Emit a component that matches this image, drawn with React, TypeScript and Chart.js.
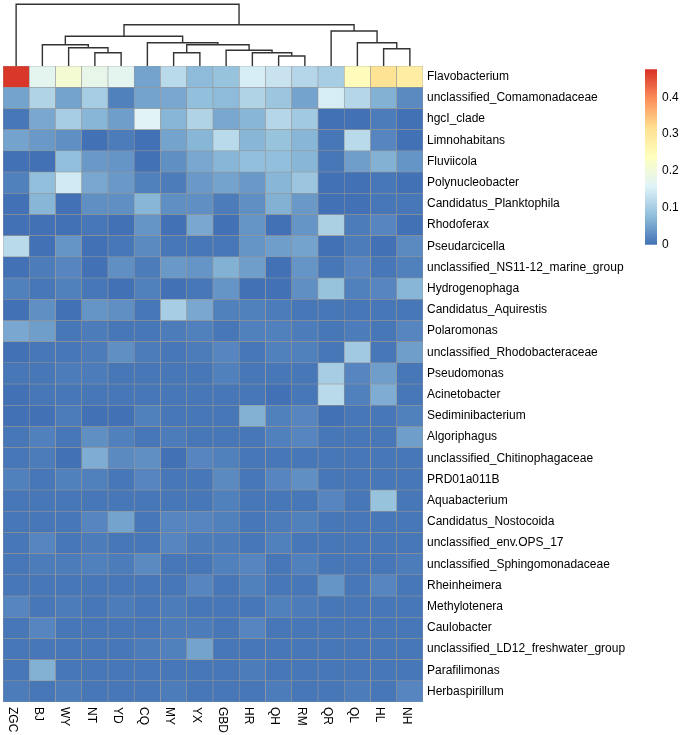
import React, { useEffect, useRef } from "react";
import { Chart, registerables } from "chart.js";
Chart.register(...registerables);

const sampleLabels = ["ZGC", "BJ", "WY", "NT", "YD", "CQ", "MY", "YX", "GBD", "HR", "QH", "RM", "QR", "QL", "HL", "NH"];

const taxaLabels = [
  "Flavobacterium",
  "unclassified_Comamonadaceae",
  "hgcI_clade",
  "Limnohabitans",
  "Fluviicola",
  "Polynucleobacter",
  "Candidatus_Planktophila",
  "Rhodoferax",
  "Pseudarcicella",
  "unclassified_NS11-12_marine_group",
  "Hydrogenophaga",
  "Candidatus_Aquirestis",
  "Polaromonas",
  "unclassified_Rhodobacteraceae",
  "Pseudomonas",
  "Acinetobacter",
  "Sediminibacterium",
  "Algoriphagus",
  "unclassified_Chitinophagaceae",
  "PRD01a011B",
  "Aquabacterium",
  "Candidatus_Nostocoida",
  "unclassified_env.OPS_17",
  "unclassified_Sphingomonadaceae",
  "Rheinheimera",
  "Methylotenera",
  "Caulobacter",
  "unclassified_LD12_freshwater_group",
  "Parafilimonas",
  "Herbaspirillum",
];

// relative abundance, one row per taxon, columns in sampleLabels order
const abundance: number[][] = [
  [0.47, 0.17, 0.21, 0.18, 0.17, 0.05, 0.12, 0.075, 0.085, 0.15, 0.135, 0.115, 0.10, 0.245, 0.31, 0.285],
  [0.05, 0.11, 0.05, 0.10, 0.015, 0.05, 0.055, 0.08, 0.075, 0.11, 0.09, 0.05, 0.15, 0.115, 0.065, 0.025],
  [0.005, 0.055, 0.10, 0.07, 0.045, 0.16, 0.07, 0.11, 0.055, 0.07, 0.115, 0.095, 0.0, 0.0, 0.01, 0.0],
  [0.05, 0.04, 0.03, 0.0, 0.01, 0.0, 0.05, 0.07, 0.12, 0.07, 0.085, 0.07, 0.005, 0.12, 0.02, 0.0],
  [0.0, 0.0, 0.08, 0.04, 0.035, 0.0, 0.03, 0.055, 0.07, 0.08, 0.08, 0.07, 0.005, 0.045, 0.065, 0.035],
  [0.015, 0.08, 0.145, 0.055, 0.04, 0.015, 0.01, 0.04, 0.05, 0.04, 0.07, 0.09, 0.0, 0.0, 0.005, 0.0],
  [0.0, 0.07, 0.0, 0.03, 0.03, 0.07, 0.03, 0.03, 0.01, 0.03, 0.065, 0.04, 0.0, 0.0, 0.005, 0.005],
  [0.0, 0.0, 0.0, 0.005, 0.0, 0.035, 0.0, 0.055, 0.0, 0.035, 0.0, 0.035, 0.105, 0.01, 0.02, 0.0],
  [0.12, 0.0, 0.035, 0.0, 0.005, 0.025, 0.005, 0.005, 0.005, 0.035, 0.045, 0.05, 0.0, 0.01, 0.0, 0.025],
  [0.0, 0.01, 0.02, 0.0, 0.03, 0.01, 0.04, 0.035, 0.065, 0.045, 0.0, 0.035, 0.005, 0.02, 0.005, 0.015],
  [0.015, 0.005, 0.015, 0.005, 0.0, 0.015, 0.0, 0.005, 0.035, 0.0, 0.0, 0.03, 0.085, 0.015, 0.02, 0.07],
  [0.0, 0.03, 0.0, 0.035, 0.03, 0.005, 0.10, 0.055, 0.015, 0.015, 0.01, 0.005, 0.005, 0.005, 0.005, 0.005],
  [0.055, 0.045, 0.005, 0.01, 0.005, 0.005, 0.01, 0.015, 0.005, 0.015, 0.015, 0.01, 0.005, 0.01, 0.005, 0.02],
  [0.0, 0.005, 0.005, 0.01, 0.03, 0.01, 0.005, 0.01, 0.02, 0.005, 0.015, 0.015, 0.005, 0.095, 0.005, 0.045],
  [0.005, 0.005, 0.01, 0.01, 0.005, 0.005, 0.005, 0.005, 0.015, 0.005, 0.005, 0.005, 0.10, 0.02, 0.045, 0.005],
  [0.0, 0.005, 0.005, 0.005, 0.005, 0.005, 0.005, 0.005, 0.005, 0.005, 0.0, 0.005, 0.12, 0.015, 0.06, 0.005],
  [0.0, 0.0, 0.01, 0.0, 0.0, 0.015, 0.005, 0.005, 0.005, 0.065, 0.015, 0.02, 0.0, 0.005, 0.005, 0.015],
  [0.005, 0.015, 0.005, 0.03, 0.015, 0.005, 0.01, 0.005, 0.005, 0.005, 0.015, 0.02, 0.005, 0.005, 0.005, 0.045],
  [0.005, 0.01, 0.0, 0.06, 0.025, 0.03, 0.0, 0.02, 0.015, 0.005, 0.005, 0.005, 0.005, 0.005, 0.005, 0.005],
  [0.015, 0.005, 0.015, 0.015, 0.005, 0.02, 0.005, 0.005, 0.025, 0.005, 0.02, 0.03, 0.005, 0.005, 0.005, 0.005],
  [0.005, 0.005, 0.005, 0.005, 0.005, 0.005, 0.005, 0.005, 0.015, 0.005, 0.005, 0.005, 0.02, 0.005, 0.085, 0.005],
  [0.005, 0.005, 0.005, 0.02, 0.05, 0.005, 0.02, 0.02, 0.015, 0.005, 0.01, 0.015, 0.005, 0.005, 0.005, 0.005],
  [0.005, 0.02, 0.005, 0.01, 0.005, 0.005, 0.02, 0.01, 0.01, 0.005, 0.015, 0.005, 0.005, 0.005, 0.005, 0.005],
  [0.005, 0.01, 0.01, 0.015, 0.01, 0.025, 0.005, 0.005, 0.015, 0.02, 0.005, 0.015, 0.005, 0.005, 0.005, 0.01],
  [0.005, 0.005, 0.005, 0.005, 0.005, 0.005, 0.005, 0.02, 0.005, 0.015, 0.005, 0.005, 0.035, 0.005, 0.02, 0.005],
  [0.02, 0.005, 0.01, 0.005, 0.01, 0.005, 0.01, 0.005, 0.005, 0.005, 0.015, 0.01, 0.005, 0.005, 0.005, 0.005],
  [0.005, 0.02, 0.005, 0.005, 0.005, 0.005, 0.01, 0.01, 0.005, 0.02, 0.005, 0.005, 0.005, 0.005, 0.005, 0.005],
  [0.005, 0.005, 0.005, 0.005, 0.005, 0.01, 0.015, 0.05, 0.005, 0.005, 0.005, 0.005, 0.005, 0.005, 0.005, 0.005],
  [0.005, 0.065, 0.005, 0.005, 0.005, 0.005, 0.005, 0.005, 0.005, 0.01, 0.005, 0.005, 0.005, 0.005, 0.005, 0.005],
  [0.01, 0.005, 0.01, 0.005, 0.005, 0.005, 0.01, 0.005, 0.005, 0.005, 0.01, 0.005, 0.005, 0.01, 0.005, 0.02],
];

// column dendrogram, hclust style: negative = leaf -(column index + 1), positive = earlier merge number
const mergeLeft = [-11, -4, -7, -10, -9, -15, -3, -2, 3, -6, -14, 8, -13, 12, -1];
const mergeRight = [-12, -5, -8, 1, 4, -16, 2, 7, 5, 9, 6, 10, 11, 13, 14];
const mergeHeight = [10, 13.3, 13.3, 13.3, 15.7, 17.3, 18.3, 21.3, 21.3, 23.3, 23.3, 29.7, 35, 41.3, 61.7];

const legendTicks = [0, 0.1, 0.2, 0.3, 0.4];
const colorMax = 0.476;
const paletteStops = ["#4272B5", "#91BFDB", "#E0F3F8", "#FFFFBF", "#FEE090", "#FC8D59", "#D73027"];

const FONT = '"Liberation Sans", Arial, Helvetica, sans-serif';

function hexToRgb(h: string) {
  const n = parseInt(h.slice(1), 16);
  return [(n >> 16) & 255, (n >> 8) & 255, n & 255];
}
function colorFor(v: number) {
  const t = Math.max(0, Math.min(1, v / colorMax)) * (paletteStops.length - 1);
  const i = Math.min(paletteStops.length - 2, Math.floor(t));
  const f = t - i;
  const a = hexToRgb(paletteStops[i]);
  const b = hexToRgb(paletteStops[i + 1]);
  const c = a.map((x, k) => Math.round(x + (b[k] - x) * f));
  return `rgb(${c[0]},${c[1]},${c[2]})`;
}

const colLabelPlugin = {
  id: "colLabels",
  afterDraw(chart: any) {
    const { ctx, chartArea, scales } = chart;
    ctx.save();
    ctx.font = `12px ${FONT}`;
    ctx.fillStyle = "#000";
    ctx.textAlign = "left";
    ctx.textBaseline = "middle";
    sampleLabels.forEach((s, i) => {
      const x = scales.x.getPixelForValue(i);
      ctx.save();
      ctx.translate(x - 4, chartArea.bottom + 5);
      ctx.rotate(Math.PI / 2);
      ctx.fillText(s, 0, 0);
      ctx.restore();
    });
    ctx.restore();
  },
};

export default function App() {
  const mainRef = useRef<HTMLCanvasElement>(null);
  const legRef = useRef<HTMLCanvasElement>(null);

  useEffect(() => {
    const barSets: any[] = taxaLabels.map((name, r) => ({
      type: "bar",
      label: name,
      stack: "heat",
      grouped: false,
      data: sampleLabels.map(() => 1),
      backgroundColor: abundance[r].map(colorFor),
      borderColor: "#969696",
      borderWidth: 0.6,
      borderSkipped: false,
      barPercentage: 1,
      categoryPercentage: 1,
      xAxisID: "x",
      yAxisID: "y",
      order: 2,
    }));

    const nodeX: number[] = [];
    const nodeH: number[] = [];
    const pos = (id: number) => (id < 0 ? { x: -id - 1, h: 0 } : { x: nodeX[id - 1], h: nodeH[id - 1] });
    const dendSets: any[] = mergeLeft.map((a, k) => {
      const A = pos(a);
      const B = pos(mergeRight[k]);
      const h = mergeHeight[k];
      nodeX[k] = (A.x + B.x) / 2;
      nodeH[k] = h;
      return {
        type: "line",
        data: [
          { x: A.x, y: A.h },
          { x: A.x, y: h },
          { x: B.x, y: h },
          { x: B.x, y: B.h },
        ],
        borderColor: "#333333",
        borderWidth: 1.4,
        pointRadius: 0,
        fill: false,
        tension: 0,
        clip: false,
        xAxisID: "xd",
        yAxisID: "yd",
        order: 1,
      };
    });

    const main = new Chart(mainRef.current as HTMLCanvasElement, {
      type: "bar",
      data: { labels: sampleLabels, datasets: [...barSets, ...dendSets] },
      options: {
        responsive: false,
        animation: false,
        events: [],
        layout: { padding: { left: 3, top: 66, right: 0, bottom: 33 } },
        plugins: { legend: { display: false }, tooltip: { enabled: false } },
        scales: {
          x: { type: "category", stacked: true, display: false, offset: true },
          y: {
            type: "linear",
            stacked: true,
            min: 0,
            max: taxaLabels.length,
            reverse: true,
            position: "right",
            grid: { display: false, drawTicks: false },
            border: { display: false },
            afterBuildTicks: (s: any) => {
              s.ticks = taxaLabels.map((_, i) => ({ value: i + 0.5 }));
            },
            afterFit: (s: any) => {
              s.width = 217;
            },
            ticks: {
              autoSkip: false,
              padding: 4,
              color: "#000",
              font: { family: FONT, size: 12 },
              callback: (v: any) => taxaLabels[Math.floor(Number(v))],
            },
          },
          xd: {
            type: "linear",
            display: false,
            offset: false,
            grid: { offset: false },
            min: -0.5,
            max: sampleLabels.length - 0.5,
          },
          yd: { type: "linear", display: false, offset: false, min: -636, max: 0 },
        },
      } as any,
      plugins: [colLabelPlugin],
    } as any);

    const leg = new Chart(legRef.current as HTMLCanvasElement, {
      type: "bar",
      data: {
        labels: [""],
        datasets: [
          {
            data: [[0, colorMax]],
            backgroundColor: (c: any) => {
              const ch = c.chart;
              const ys = ch.scales.y;
              if (!ys || !ch.chartArea) return paletteStops[0];
              const g = ch.ctx.createLinearGradient(0, ys.getPixelForValue(0), 0, ys.getPixelForValue(colorMax));
              paletteStops.forEach((s, i) => g.addColorStop(i / (paletteStops.length - 1), s));
              return g;
            },
            borderWidth: 0,
            barPercentage: 1,
            categoryPercentage: 1,
          },
        ],
      },
      options: {
        responsive: false,
        animation: false,
        events: [],
        layout: { padding: { top: 8, bottom: 11, left: 0, right: 0 } },
        plugins: { legend: { display: false }, tooltip: { enabled: false } },
        scales: {
          x: { display: false },
          y: {
            position: "right",
            min: 0,
            max: colorMax,
            grid: { display: false, drawTicks: false },
            border: { display: false },
            afterBuildTicks: (s: any) => {
              s.ticks = legendTicks.map((v) => ({ value: v }));
            },
            afterFit: (s: any) => {
              s.width = 28;
            },
            ticks: {
              padding: 5,
              color: "#000",
              font: { family: FONT, size: 12 },
              callback: (v: any) => String(v),
            },
          },
        },
      } as any,
    } as any);

    return () => {
      main.destroy();
      leg.destroy();
    };
  }, []);

  return (
    <div style={{ position: "fixed", left: 0, top: 0, width: 685, height: 735, background: "#fff", overflow: "hidden" }}>
      <canvas ref={mainRef} width={640} height={735} style={{ position: "absolute", left: 0, top: 0, display: "block" }} />
      <canvas ref={legRef} width={40} height={200} style={{ position: "absolute", left: 645, top: 57, display: "block" }} />
    </div>
  );
}
